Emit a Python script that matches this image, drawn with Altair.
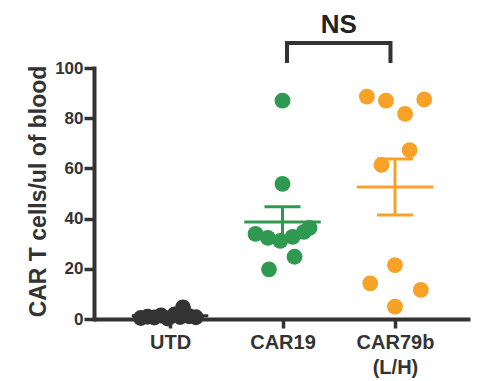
import altair as alt
import pandas as pd
import numpy as np

# ---- data ----
groups = ["UTD", "CAR19", "CAR79b"]
group_pos = [0, 1, 2]
colors = ["#333333", "#2f9a4f", "#f7a226"]

utd_vals = [0.4, 0.9, 0.6, 1.4, 0.2, 1.8, 0.8, 4.6, 1.1, 0.7]
utd_jitter = [-0.26, -0.2, -0.14, -0.08, -0.02, 0.04, 0.09, 0.115, 0.17, 0.23]

car19_vals = [87, 53.8, 33.9, 32.3, 31.1, 32.7, 34.7, 36.3, 24.8, 19.8]
car19_jitter = [0, 0, -0.24, -0.13, -0.02, 0.09, 0.19, 0.24, 0.107, -0.12]

car79_vals = [88.6, 87, 87.5, 81.7, 67.3, 61.4, 21.5, 14.2, 11.6, 4.9]
car79_jitter = [-0.25, -0.08, 0.26, 0.09, 0.13, -0.12, 0, -0.22, 0.23, 0]

y_ticks = [0, 20, 40, 60, 80, 100]
y_title = "CAR T cells/ul of blood"
sig_label = "NS"

# ---- build tables ----
vals = [utd_vals, car19_vals, car79_vals]
jits = [utd_jitter, car19_jitter, car79_jitter]
rows = []
for g, p, v, j in zip(groups, group_pos, vals, jits):
    for vi, ji in zip(v, j):
        rows.append({"group": g, "x": p + ji, "y": vi})
pts = pd.DataFrame(rows)

MEAN_HW = 0.34
CAP_HW = 0.16
seg = []
for g, p, v in zip(groups, group_pos, vals):
    a = np.array(v, dtype=float)
    m = a.mean()
    s = a.std(ddof=1) / np.sqrt(len(a))
    seg.append({"group": g, "x": p - MEAN_HW, "x2": p + MEAN_HW, "y": m, "y2": m})
    seg.append({"group": g, "x": p, "x2": p, "y": m - s, "y2": m + s})
    seg.append({"group": g, "x": p - CAP_HW, "x2": p + CAP_HW, "y": m + s, "y2": m + s})
    seg.append({"group": g, "x": p - CAP_HW, "x2": p + CAP_HW, "y": m - s, "y2": m - s})
segs = pd.DataFrame(seg)

bracket = pd.DataFrame({"x": [1.04, 1.04, 1.96, 1.96], "y": [102, 110, 110, 102], "o": [0, 1, 2, 3]})
ns = pd.DataFrame({"x": [1.5], "y": [114], "t": [sig_label]})

FONT = "Liberation Sans"
DARK = "#333333"

W, H = 376, 311
xscale = alt.Scale(domain=[-0.676, 2.667], nice=False, zero=False)
# value axis 0..100 occupies the lower part of the view; annotations sit above it
yscale = alt.Scale(domain=[0, 100], range=[H, H - 251], nice=False, zero=False)
color = alt.Color("group:N", scale=alt.Scale(domain=groups, range=colors), legend=None)

xaxis = alt.Axis(
    values=group_pos, grid=False, title=None,
    labelExpr="datum.value == 0 ? 'UTD' : datum.value == 1 ? 'CAR19' : ['CAR79b', '(L/H)']",
    labelFont=FONT, labelFontSize=20, labelFontWeight="bold", labelColor=DARK,
    labelLineHeight=25, labelPadding=4,
    domainColor=DARK, domainWidth=4, tickColor=DARK, tickWidth=3.5, tickSize=9,
)
yaxis = alt.Axis(
    values=y_ticks, grid=False, domain=True, title=y_title,
    domainColor=DARK, domainWidth=4, domainCap="square",
    labelFont=FONT, labelFontSize=17, labelFontWeight="bold", labelColor=DARK,
    labelPadding=1, tickColor=DARK, tickWidth=3.5, tickSize=10,
    titleFont=FONT, titleFontSize=23, titleFontWeight="bold", titleColor=DARK,
    titleAngle=270, titleAlign="center", titleBaseline="middle",
    titleX=-56, titleY=183,
)

X = alt.X("x:Q", scale=xscale, axis=xaxis)
Y = alt.Y("y:Q", scale=yscale, axis=yaxis)

errs = alt.Chart(segs).mark_rule(strokeWidth=3).encode(x=X, x2="x2:Q", y=Y, y2="y2:Q", color=color)

dots = alt.Chart(pts).mark_circle(size=250, opacity=1).encode(x=X, y=Y, color=color)

brk = alt.Chart(bracket).mark_line(color=DARK, strokeWidth=4, strokeCap="butt", strokeJoin="miter").encode(
    x=X, y=Y, order="o:Q"
)

txt = alt.Chart(ns).mark_text(
    font=FONT, fontSize=26, fontWeight="bold", color="#222222", baseline="alphabetic"
).encode(x=X, y=Y, text="t:N")

chart = alt.layer(errs, dots, brk, txt).properties(
    width=W, height=H,
    padding={"left": 86, "top": 0, "right": 6, "bottom": 62},
    autosize="none",
    background="white",
).configure_view(strokeWidth=0).configure_axis(gridOpacity=0)

chart.save("out.html", embed_options={"renderer": "svg", "actions": False})
